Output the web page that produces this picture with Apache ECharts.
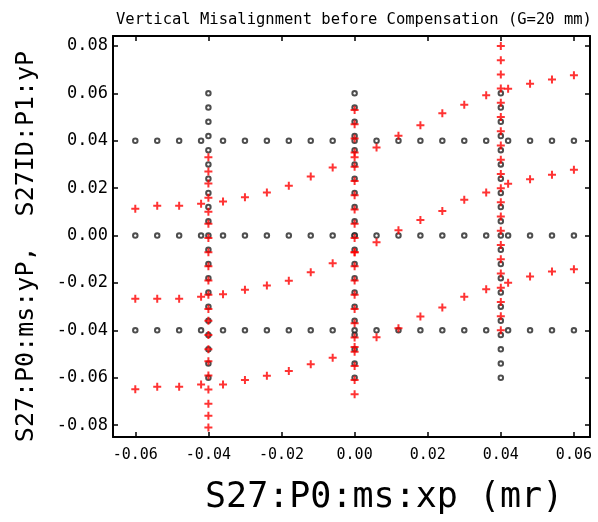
<!DOCTYPE html>
<html><head><meta charset="utf-8">
<script src="https://cdn.jsdelivr.net/npm/echarts@6/dist/echarts.min.js"></script>
<style>html,body{margin:0;padding:0;background:#fff}#c{width:598px;height:522px}</style>
</head><body><div id="c"></div>
<script>
// ---- data ----
const titleText = 'Vertical Misalignment before Compensation (G=20 mm)';
const xName = 'S27:P0:ms:xp (mr)';
const yName = 'S27:P0:ms:yP,  S27ID:P1:yP';

const xTicks = [-0.06, -0.04, -0.02, 0.00, 0.02, 0.04, 0.06];
const yTicks = [-0.08, -0.06, -0.04, -0.02, 0.00, 0.02, 0.04, 0.06, 0.08];

// grid scan x positions (black rows and red rows)
const gridX = [-0.060, -0.054, -0.048, -0.042, -0.036, -0.030, -0.024, -0.018, -0.012, -0.006, 0.000,
               0.006, 0.012, 0.018, 0.024, 0.030, 0.036, 0.042, 0.048, 0.054, 0.060];
// black (P0) rows
const blackRowY = [0.040, 0.000, -0.040];
// black (P0) vertical scans
const columnX = [-0.04, 0.00, 0.04];
const blackColumnY = [0.060, 0.054, 0.048, 0.042, 0.036, 0.030, 0.024, 0.018, 0.012, 0.006, 0.000,
                      -0.006, -0.012, -0.018, -0.024, -0.030, -0.036, -0.042, -0.048, -0.054, -0.060];

// red (P1) rows, one value per gridX
const redRowA = [0.0113, 0.0126, 0.0126, 0.0134, 0.0144, 0.0162, 0.0182, 0.0210, 0.0249, 0.0287, 0.0330,
                 0.0372, 0.0421, 0.0465, 0.0516, 0.0552, 0.0592, 0.0619, 0.0640, 0.0658, 0.0676];
const redRowB = [-0.0267, -0.0267, -0.0267, -0.0258, -0.0248, -0.0229, -0.0211, -0.0191, -0.0155, -0.0117, -0.0070,
                 -0.0028, 0.0022, 0.0066, 0.0104, 0.0151, 0.0182, 0.0219, 0.0238, 0.0257, 0.0278];
const redRowC = [-0.0649, -0.0638, -0.0638, -0.0628, -0.0628, -0.0610, -0.0592, -0.0572, -0.0543, -0.0516, -0.0470,
                 -0.0429, -0.0391, -0.0342, -0.0304, -0.0258, -0.0227, -0.0199, -0.0173, -0.0152, -0.0142];

// red (P1) vertical scans, one per columnX
const redColMinus04 = [0.033, 0.027, 0.022, 0.016, 0.010, 0.005, -0.001, -0.007, -0.013, -0.019, -0.025,
                       -0.031, -0.036, -0.042, -0.048, -0.053, -0.059, -0.065, -0.071, -0.076, -0.081];
const redCol0 = [0.053, 0.047, 0.041, 0.035, 0.029, 0.023, 0.017, 0.011, 0.005, -0.001, -0.007,
                 -0.013, -0.019, -0.025, -0.031, -0.037, -0.043, -0.049, -0.055, -0.061, -0.067];
const redColPlus04 = [0.080, 0.074, 0.068, 0.062, 0.056, 0.050, 0.044, 0.038, 0.032, 0.026, 0.020,
                      0.014, 0.008, 0.002, -0.004, -0.010, -0.016, -0.022, -0.028, -0.034, -0.040];

// ---- build point lists ----
const blackPts = [];
blackRowY.forEach(y => gridX.forEach(x => blackPts.push([x, y])));
columnX.forEach(cx => blackColumnY.forEach(y => blackPts.push([cx, y])));

const redPts = [];
[redRowA, redRowB, redRowC].forEach(row => row.forEach((y, i) => redPts.push([gridX[i], y])));
[redColMinus04, redCol0, redColPlus04].forEach((col, j) => col.forEach(y => redPts.push([columnX[j], y])));

const MONO = '"DejaVu Sans Mono", "Liberation Mono", monospace';
const fmt = v => v.toFixed(2);

function xAxisDef(pos, showLabels) {
  return {
    type: 'value', position: pos, min: -0.0661, max: 0.0644,
    axisLine: { show: true, onZero: false, lineStyle: { color: '#000', width: 2 } },
    axisTick: { show: true, inside: true, length: 5, customValues: xTicks, lineStyle: { color: '#000', width: 1.5 } },
    axisLabel: { show: showLabels, customValues: xTicks, formatter: fmt, fontFamily: MONO, fontSize: 15, color: '#000', margin: 11 },
    splitLine: { show: false }
  };
}
function yAxisDef(pos, showLabels) {
  return {
    type: 'value', position: pos, min: -0.085, max: 0.0842,
    axisLine: { show: true, onZero: false, lineStyle: { color: '#000', width: 2 } },
    axisTick: { show: true, inside: true, length: 5, customValues: yTicks, lineStyle: { color: '#000', width: 1.5 } },
    axisLabel: { show: showLabels, customValues: yTicks, formatter: fmt, fontFamily: MONO, fontSize: 17, color: '#000', margin: 5 },
    splitLine: { show: false }
  };
}

const yLeft = yAxisDef('left', true);
yLeft.name = yName;
yLeft.nameLocation = 'middle';
yLeft.nameRotate = 90;
yLeft.nameGap = 74;
yLeft.nameTextStyle = { fontFamily: MONO, fontSize: 25, color: '#000', padding: [0, 20, 0, 0] };

const chart = echarts.init(document.getElementById('c'), null, { renderer: 'canvas' });
chart.setOption({
  animation: false,
  backgroundColor: '#fff',
  title: [
    { text: titleText, left: 111, top: 7, textStyle: { fontFamily: MONO, fontSize: 15.5, fontWeight: 'normal', color: '#000' } },
    { text: xName, left: 200, top: 475, textStyle: { fontFamily: MONO, fontSize: 35, fontWeight: 'normal', color: '#000' } }
  ],
  grid: { left: 113, right: 8, top: 36, bottom: 85, containLabel: false },
  xAxis: [xAxisDef('bottom', true), xAxisDef('top', false)],
  yAxis: [yLeft, yAxisDef('right', false)],
  series: [
    { type: 'scatter', xAxisIndex: 0, yAxisIndex: 0, data: blackPts, symbol: 'emptyCircle', symbolSize: 4.5,
      itemStyle: { color: '#222', borderColor: '#222', borderWidth: 1.2 }, silent: true },
    { type: 'scatter', xAxisIndex: 0, yAxisIndex: 0, data: redPts, symbol: 'path://M3,0H5V3H8V5H5V8H3V5H0V3H3Z', symbolSize: 8,
      itemStyle: { color: '#ff0000' }, silent: true }
  ]
});
</script></body></html>
